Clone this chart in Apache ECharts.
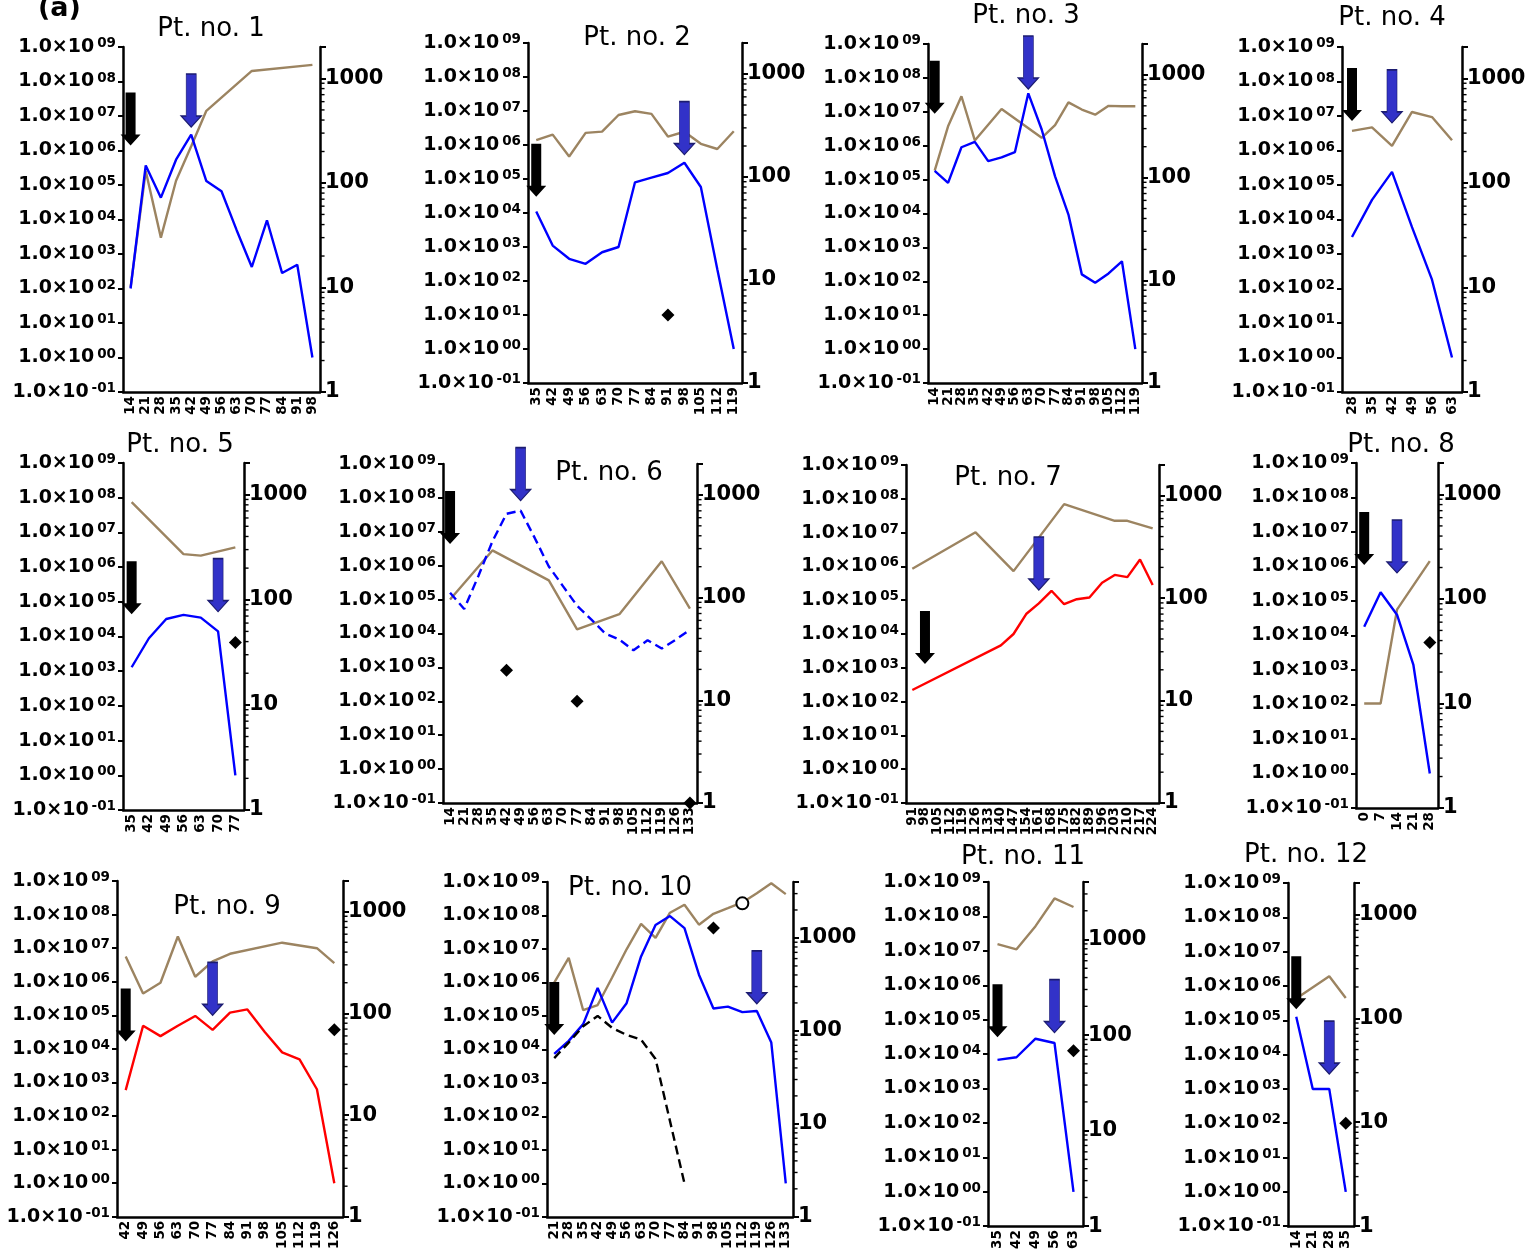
<!DOCTYPE html>
<html>
<head>
<meta charset="UTF-8">
<title>Pt. no. 1-12</title>
<script src="https://cdn.jsdelivr.net/npm/echarts@6/dist/echarts.min.js"></script>
<style>
  html, body { margin: 0; padding: 0; background: #fff; }
  #main { width: 1539px; height: 1252px; }
</style>
</head>
<body>
<div id="main"></div>
<script>
// ---- data (days on x, left = log level, right = second measure) ----
var days1 = [14, 21, 28, 35, 42, 49, 56, 63, 70, 77, 84, 91, 98];
var left1 = [1e2, 3.7e5, 4.3e4, 5.4e5, 2.9e6, 1.3e5, 6.6e4, 4.9e3, 4.2e2, 9.5e3, 2.8e2, 4.9e2, 1];
var right1 = [10, 130, 30, 105, 225, 490, null, null, 1180, null, null, null, 1350];

var days2 = [35, 42, 49, 56, 63, 70, 77, 84, 91, 98, 105, 112, 119];
var left2 = [1.1e4, 1.1e3, 4.5e2, 3.2e2, 7e2, 1e3, 8e4, 1.1e5, 1.5e5, 3e5, 5.8e4, 2.2e2, 1];
var right2 = [228, 258, 158, 268, 276, 400, 435, 410, 247, 275, 210, 187, 278];
var dots2 = [[91, 10]];

var days3 = [14, 21, 28, 35, 42, 49, 56, 63, 70, 77, 84, 91, 98, 105, 112, 119];
var left3 = [1.8e5, 8e4, 9e5, 1.3e6, 3.5e5, 4.5e5, 6.5e5, 3.5e7, 3e6, 1.25e5, 9.3e3, 1.6e2, 9e1, 1.7e2, 3.9e2, 1];
var right3 = [117, 316, 620, 230, null, 466, null, null, 244, 324, 540, 460, 410, 500, 495, 495];

var days4 = [28, 35, 42, 49, 56, 63];
var left4 = [3.1e3, 3.7e4, 2.4e5, 6e3, 1.8e2, 1];
var right4 = [315, 340, 226, 478, 427, 256];

var days5 = [35, 42, 49, 56, 63, 70, 77];
var left5 = [1.3e3, 8.9e3, 3.2e4, 4.2e4, 3.5e4, 1.4e4, 1];
var right5 = [850, null, null, 272, 263, null, 315];
var dots5 = [[77, 6.7e3]];

var days6 = [14, 21, 28, 35, 42, 49, 56, 63, 70, 77, 84, 91, 98, 105, 112, 119, 126, 133];
var dash6 = [1.6e5, 5.3e4, 4.9e5, 5.2e6, 3.4e7, 4.2e7, 6.6e6, 9.5e5, 2.5e5, 6.6e4, 2.6e4, 1e4, 6.6e3, 3.2e3, 6.3e3, 3.6e3, 6.6e3, 1.3e4];
var right6 = [96, null, null, 288, null, null, null, 147, null, 49, null, null, 69, null, null, 226, null, 78];
var dots6 = [[42, 8.2e2], [77, 1e2], [133, 0.1]];

var days7 = [91, 98, 105, 112, 119, 126, 133, 140, 147, 154, 161, 168, 175, 182, 189, 196, 203, 210, 217, 224];
var red7 = [2.2e2, null, null, null, null, null, null, 4.6e3, 1e4, 3.9e4, 8.1e4, 1.9e5, 7.6e4, 1.07e5, 1.2e5, 3.3e5, 5.6e5, 4.8e5, 1.6e6, 2.8e5];
var right7 = [194, null, null, null, null, 440, null, null, 184, null, null, null, 830, null, null, null, 570, 570, null, 480];

var days8 = [0, 7, 14, 21, 28];
var left8 = [1.8e4, 1.8e5, 4e4, 1.4e3, 1];
var right8 = [10, 10, 79, null, 230];
var dots8 = [[28, 6.3e3]];

var days9 = [42, 49, 56, 63, 70, 77, 84, 91, 98, 105, 112, 119, 126];
var red9 = [5.9e2, 4.9e4, 2.4e4, 4.9e4, 9.6e4, 3.7e4, 1.2e5, 1.5e5, 3.2e4, 7.9e3, 4.9e3, 6.3e2, 1];
var right9 = [363, 157, 200, 569, 229, 325, 385, null, null, 495, null, 437, 312];
var dots9 = [[126, 3.7e4]];

var days10 = [21, 28, 35, 42, 49, 56, 63, 70, 77, 84, 91, 98, 105, 112, 119, 126, 133];
var left10 = [7.4e3, 1.8e4, 5.7e4, 6.9e5, 6.3e4, 2.4e5, 6e6, 5.2e7, 9.6e7, 4.2e7, 1.7e6, 1.66e5, 1.9e5, 1.3e5, 1.4e5, 1.6e4, 1];
var dash10 = [5.5e3, 1.6e4, 4.9e4, 1e5, 4.4e4, 2.7e4, 1.95e4, 5.2e3, null, 1];
var right10 = [331, 610, 167, 190, 375, 755, 1420, 1000, 1870, 2280, 1390, 1820, 2090, 2410, 3020, 3870, 2960];
var dots10 = [[98, 4.2e7]];
var rings10 = [[112, 2.3e8]];

var days11 = [35, 42, 49, 56, 63];
var left11 = [6.8e3, 8.1e3, 2.8e4, 2.1e4, 1];
var right11 = [895, 790, 1380, 2690, 2190];
var dots11 = [[63, 1.26e4]];

var days12 = [14, 21, 28, 35];
var left12 = [1.26e5, 1e3, 1e3, 1];
var right12 = [155, null, 254, 157];
var dots12 = [[35, 1e2]];

// arrows: [day, level at the tip]
var blackArrows = [[15.6, 1.4e6], [37.5, 3e4], [16.8, 8.8e6], [29.3, 7.2e6], [38.4, 4.4e4], [17.3, 4.4e6],
                   [96.8, 1.3e3], [2, 1.1e6], [44.4, 1.65e4], [21.9, 2.7e4], [36.5, 3.1e4], [15.3, 2.1e5]];
var blueArrows = [[42.5, 4.8e6], [99, 5.2e5], [62.4, 4.7e7], [40.5, 6.3e6], [67.1, 5.2e4], [50, 8.3e7],
                  [164.4, 2e5], [11, 6.5e5], [78.8, 1e5], [118.2, 2.3e5], [53.5, 4.2e4], [27.6, 2.7e3]];

// ---- layout ----
var BLUE = '#0000ff', TAN = '#9c8461', RED = '#ff0000';
var FONT = 'DejaVu Sans';
// [left axis x, top, right axis x, bottom]
var boxes = [
    [123, 47, 320, 392], [528, 43, 742, 383], [928, 44, 1142, 383], [1342, 47, 1462, 392],
    [123, 463, 244, 810], [443, 464, 697, 803], [906, 465, 1159, 803], [1356, 463, 1438, 808],
    [117, 881, 343, 1219], [547, 882, 793, 1219], [988, 882, 1083, 1227], [1288, 883, 1354, 1231]
];
var titlePos = [[211, 29], [637, 38], [1026, 16], [1392, 18], [180, 445], [609, 473],
                [1008, 478], [1401, 445], [227, 907], [630, 888], [1023, 857], [1306, 855]];

var panels = [
    { days: days1, lines: [{ d: left1, c: BLUE }], right: right1, dots: [], rmax: 2000 },
    { days: days2, lines: [{ d: left2, c: BLUE }], right: right2, dots: dots2, rmax: 2000 },
    { days: days3, lines: [{ d: left3, c: BLUE }], right: right3, dots: [], rmax: 2000 },
    { days: days4, lines: [{ d: left4, c: BLUE }], right: right4, dots: [], rmax: 2000 },
    { days: days5, lines: [{ d: left5, c: BLUE }], right: right5, dots: dots5, rmax: 2000 },
    { days: days6, lines: [{ d: dash6, c: BLUE, dash: true }], right: right6, dots: dots6, rmax: 2000 },
    { days: days7, lines: [{ d: red7, c: RED }], right: right7, dots: [], rmax: 2000 },
    { days: days8, lines: [{ d: left8, c: BLUE }], right: right8, dots: dots8, rmax: 2000 },
    { days: days9, lines: [{ d: red9, c: RED }], right: right9, dots: dots9, rmax: 2000 },
    { days: days10, lines: [{ d: left10, c: BLUE }, { d: dash10, c: '#000', dash: true }], right: right10, dots: dots10, rings: rings10, rmax: 4000 },
    { days: days11, lines: [{ d: left11, c: BLUE }], right: right11, dots: dots11, rmax: 4000 },
    { days: days12, lines: [{ d: left12, c: BLUE }], right: right12, dots: dots12, rmax: 2000 }
];

var ARROW = 'path://M5,0 L15,0 L15,42 L20,42 L10,53 L0,42 L5,42 Z';

function pad(e) {
    var s = String(Math.abs(e));
    if (s.length < 2) s = '0' + s;
    return (e < 0 ? '-' : '') + s;
}

// 2..9 marks inside each decade of the right axis
function minorMarks(max) {
    var out = [];
    for (var dec = 1; dec < max; dec *= 10) {
        for (var m = 2; m <= 9; m++) {
            if (m * dec < max) out.push(m * dec);
        }
    }
    return out;
}

var option = {
    animation: false,
    backgroundColor: '#fff',
    grid: [], xAxis: [], yAxis: [], series: [],
    graphic: [{
        type: 'text', x: 38, y: 22,
        style: { text: '(a)', fontFamily: FONT, fontWeight: 'bold', fontSize: 27, fill: '#000', align: 'left', verticalAlign: 'bottom' }
    }]
};

var axisLine = { show: true, onZero: false, lineStyle: { color: '#000', width: 2.5 } };

panels.forEach(function (p, i) {
    var b = boxes[i];
    var toIdx = function (day) { return (day - p.days[0]) / 7; };
    var yl = option.yAxis.length;
    var last = p.days.length - 1;
    var halfBand = (b[2] - b[0]) / p.days.length / 2;
    option.grid.push({ left: b[0], top: b[1], width: b[2] - b[0], height: b[3] - b[1] });
    option.xAxis.push({
        type: 'category', gridIndex: i, data: p.days.map(String), boundaryGap: true,
        axisLine: axisLine, axisTick: { show: false }, splitLine: { show: false },
        axisLabel: { interval: 0, rotate: 90, margin: 4, fontFamily: FONT, fontWeight: 'bold', fontSize: 13.5, color: '#000' }
    });
    option.yAxis.push({
        type: 'log', logBase: 10, gridIndex: i, position: 'left', min: 0.1, max: 1e9, interval: 1,
        axisLine: axisLine, splitLine: { show: false },
        axisTick: { show: true, length: 5, lineStyle: { color: '#000', width: 2 } },
        axisLabel: {
            margin: 7,
            formatter: function (v) {
                var e = Math.round(Math.log(v) / Math.LN10);
                return '{m|1.0×10}{e|' + pad(e) + '}';
            },
            rich: {
                m: { fontFamily: FONT, fontWeight: 'bold', fontSize: 19, color: '#000', lineHeight: 21 },
                e: { fontFamily: FONT, fontWeight: 'bold', fontSize: 13.5, color: '#000', lineHeight: 14, verticalAlign: 'top', padding: [0, 0, 0, 3] }
            }
        }
    });
    option.yAxis.push({
        type: 'log', logBase: 10, gridIndex: i, position: 'right', min: 1, max: p.rmax,
        axisLine: axisLine, splitLine: { show: false },
        axisTick: { show: true, length: 6, lineStyle: { color: '#000', width: 2 } },
        axisLabel: {
            margin: 5, fontFamily: FONT, fontWeight: 'bold', fontSize: 21, color: '#000',
            formatter: function (v) {
                var l = Math.log(v) / Math.LN10;
                return Math.abs(l - Math.round(l)) < 1e-6 ? String(Math.round(v)) : '';
            }
        }
    });

    p.lines.forEach(function (ln) {
        option.series.push({
            type: 'line', xAxisIndex: i, yAxisIndex: yl, data: ln.d, symbol: 'none',
            connectNulls: true, z: 3,
            lineStyle: { color: ln.c, width: 2.4, type: ln.dash ? [9, 5] : 'solid' }
        });
    });
    option.series.push({
        type: 'line', xAxisIndex: i, yAxisIndex: yl + 1, data: p.right, symbol: 'none',
        connectNulls: true, z: 2,
        lineStyle: { color: TAN, width: 2.4 }
    });
    // small in-decade ticks just outside the right axis (anchored on the last category, shifted half a band)
    option.series.push({
        type: 'scatter', xAxisIndex: i, yAxisIndex: yl + 1, symbol: 'rect', symbolSize: [4.5, 1.4],
        symbolOffset: [halfBand + 2.3, 0], clip: false, silent: true, z: 1,
        itemStyle: { color: '#000', opacity: 1 },
        data: minorMarks(p.rmax).map(function (v) { return [last, v]; })
    });
    if (p.dots.length) {
        option.series.push({
            type: 'scatter', xAxisIndex: i, yAxisIndex: yl, symbol: 'diamond', symbolSize: 13, clip: false, z: 4,
            itemStyle: { color: '#000', opacity: 1 },
            data: p.dots.map(function (d) { return [toIdx(d[0]), d[1]]; })
        });
    }
    if (p.rings) {
        option.series.push({
            type: 'scatter', xAxisIndex: i, yAxisIndex: yl, symbol: 'circle', symbolSize: 12, clip: false, z: 4,
            itemStyle: { color: '#fff', borderColor: '#000', borderWidth: 2, opacity: 1 },
            data: p.rings.map(function (d) { return [toIdx(d[0]), d[1]]; })
        });
    }
    option.series.push({
        type: 'scatter', xAxisIndex: i, yAxisIndex: yl, symbol: ARROW, symbolSize: [20, 53],
        symbolOffset: [0, '-50%'], clip: false, z: 6,
        itemStyle: { color: '#000', opacity: 1 },
        data: [[toIdx(blackArrows[i][0]), blackArrows[i][1]]]
    });
    option.series.push({
        type: 'scatter', xAxisIndex: i, yAxisIndex: yl, symbol: ARROW, symbolSize: [20, 53],
        symbolOffset: [0, '-50%'], clip: false, z: 6,
        itemStyle: { color: '#3232c8', borderColor: '#1c1c70', borderWidth: 1, opacity: 1 },
        data: [[toIdx(blueArrows[i][0]), blueArrows[i][1]]]
    });

    option.graphic.push({
        type: 'text', x: titlePos[i][0], y: titlePos[i][1],
        style: { text: 'Pt. no. ' + (i + 1), fontFamily: FONT, fontSize: 26, fill: '#000', align: 'center', verticalAlign: 'middle' }
    });
});

var myChart = echarts.init(document.getElementById('main'));
myChart.setOption(option);
</script>
</body>
</html>
